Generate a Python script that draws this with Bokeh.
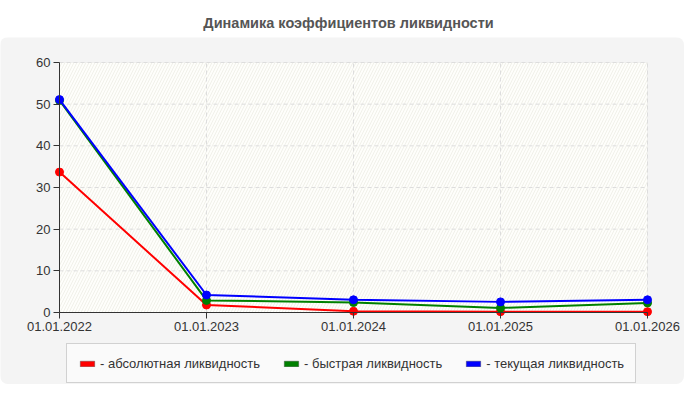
from bokeh.plotting import figure
from bokeh.models import (Range1d, BoxAnnotation, Legend, LegendItem, ColumnDataSource,
                          FixedTicker, Div)
from bokeh.layouts import column
from bokeh.embed import file_html
from bokeh.resources import INLINE

# ---- data ----
dates = ["01.01.2022", "01.01.2023", "01.01.2024", "01.01.2025", "01.01.2026"]
absolute_liq = [33.7, 1.8, 0.3, 0.2, 0.2]
quick_liq = [50.9, 2.9, 2.4, 1.1, 2.3]
current_liq = [51.1, 4.2, 3.05, 2.55, 3.05]
series_names = ["- абсолютная ликвидность", "- быстрая ликвидность", "- текущая ликвидность"]
series_colors = ["#ff0000", "#008000", "#0000ff"]
y_ticks = [0, 10, 20, 30, 40, 50, 60]
title_text = "Динамика коэффициентов ликвидности"

xs = list(range(len(dates)))
FONT = "Liberation Sans"
NAN = float("nan")

# ---- layout geometry (pixels) ----
W, H = 684, 347                 # chart panel canvas
PL, PR, PT, PB = 59, 647, 25, 275   # plot area inside canvas
x_max = len(dates) - 1
y_max = 60
sx = (PR - PL) / x_max
sy = (PB - PT) / y_max
x_lo = -PL / sx
x_hi = x_lo + W / sx
y_lo = -(H - PB) / sy
y_hi = y_lo + H / sy

title = Div(text=title_text, width=W, height=37, margin=0,
            styles={"font-family": FONT, "font-weight": "bold", "font-size": "14.5px",
                    "color": "#555555", "text-align": "center", "padding-top": "13px",
                    "padding-left": "13px", "box-sizing": "border-box", "width": f"{W}px"})

p = figure(frame_width=W, frame_height=H, output_backend="svg", toolbar_location=None,
           x_range=Range1d(x_lo, x_hi), y_range=Range1d(y_lo, y_hi),
           min_border=0, margin=0, styles={"border-radius": "8px", "overflow": "hidden"})
p.border_fill_color = "#f4f4f4"
p.background_fill_color = "#f4f4f4"
p.outline_line_color = None
p.xgrid.visible = False
p.ygrid.visible = False

area = BoxAnnotation(left=0, right=x_max, bottom=0, top=y_max,
                     fill_color="#fefefb", fill_alpha=1, line_color="#dddddd", line_width=1,
                     hatch_pattern="right_diagonal_line", hatch_color="#e4e4d8",
                     hatch_alpha=0.5, hatch_scale=6, hatch_weight=1, level="image")
p.add_layout(area)

# grid lines from the tick lists
p.segment(x0=xs, y0=[0] * len(xs), x1=xs, y1=[y_max] * len(xs),
          line_color="#dddddd", line_dash="4 3", line_width=1, level="underlay")
p.segment(x0=[0] * len(y_ticks), y0=y_ticks, x1=[x_max] * len(y_ticks), y1=y_ticks,
          line_color="#dddddd", line_dash="4 3", line_width=1, level="underlay")

p.xaxis.ticker = FixedTicker(ticks=xs)
p.xaxis.major_label_overrides = {i: d for i, d in enumerate(dates)}
p.yaxis.ticker = FixedTicker(ticks=y_ticks)
p.xaxis.fixed_location = 0
p.yaxis.fixed_location = 0
p.xaxis.bounds = (0, x_max)
p.yaxis.bounds = (0, y_max)
for ax in (p.xaxis[0], p.yaxis[0]):
    ax.axis_line_color = "#333333"
    ax.major_tick_line_color = "#333333"
    ax.major_tick_out = 6
    ax.major_tick_in = 0
    ax.minor_tick_line_color = None
    ax.major_label_text_font = FONT
    ax.major_label_text_font_size = "13px"
    ax.major_label_text_color = "#333333"
    ax.major_label_standoff = 3

items = []
for vals, color, name in zip([absolute_liq, quick_liq, current_liq], series_colors, series_names):
    src = ColumnDataSource(dict(x=xs, y=vals))
    p.line("x", "y", source=src, line_color=color, line_width=2)
    p.scatter("x", "y", source=src, size=8, fill_color=color, line_color=color)
    key_src = ColumnDataSource(dict(left=[NAN], right=[NAN], top=[NAN], bottom=[NAN]))
    dummy = p.quad(left="left", right="right", top="top", bottom="bottom", source=key_src,
                   fill_color=color, line_color="#444444", line_alpha=0.4, line_width=1)
    items.append(LegendItem(label=name, renderers=[dummy]))

legend = Legend(items=items, orientation="horizontal", location=(66, 1),
                glyph_width=18, glyph_height=7, label_standoff=4, spacing=22,
                padding=11, margin=0, border_line_color="#a8a8a8", border_line_width=1,
                background_fill_color="#fafafa", background_fill_alpha=1,
                label_text_font=FONT, label_text_font_size="13px",
                label_text_color="#333333", label_height=16)
p.add_layout(legend, "center")

layout = column(title, p, spacing=0)
open("out.html", "w").write(file_html(layout, INLINE))
